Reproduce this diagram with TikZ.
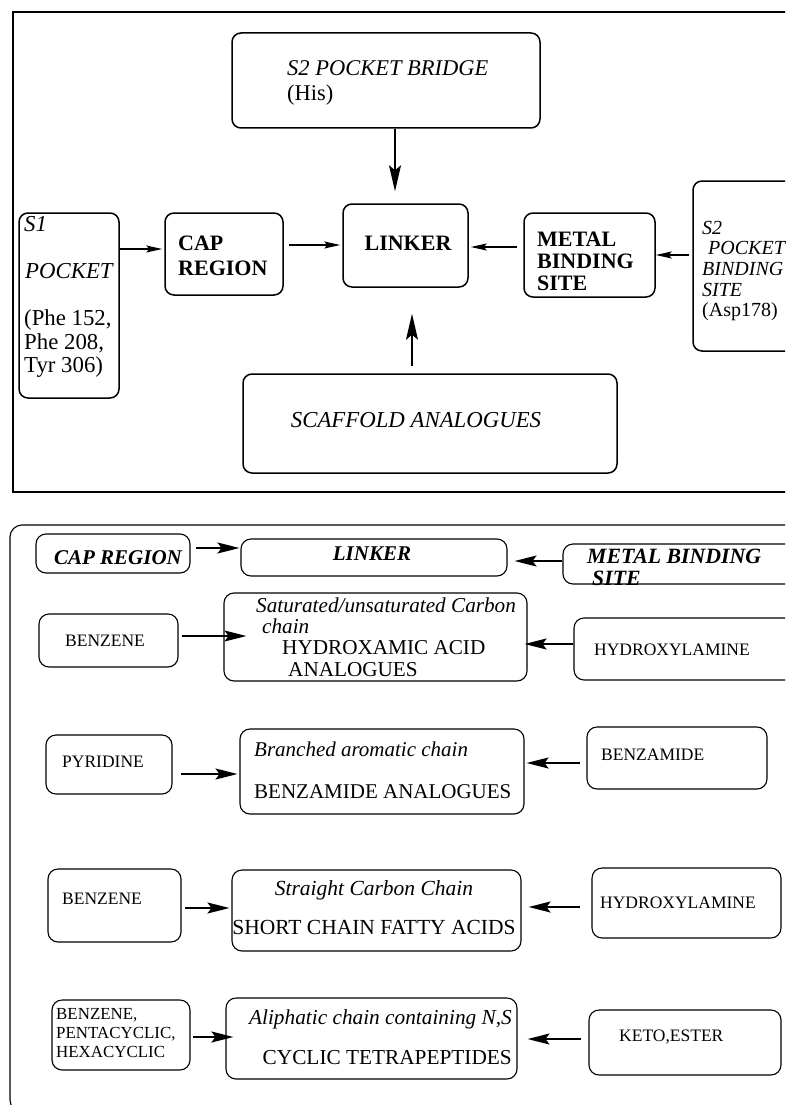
\documentclass[tikz,border=0pt]{standalone}
\usepackage{fontspec}
\setmainfont{Liberation Serif}
\usetikzlibrary{arrows.meta,fit,calc}
\newcommand{\fsz}[2]{\fontsize{#1}{#2}\selectfont}
\tikzset{
  tbox/.style={draw, line width=1.5pt, rounded corners=9pt, inner sep=0pt},
  bbox/.style={draw, line width=1.1pt, rounded corners=10pt, inner sep=0pt},
  txt/.style={inner sep=0pt, align=left, anchor=west},
  tarrh/.style={-{Stealth[length=16pt,width=7pt,inset=3pt]}, line width=1.3pt},
  tarrv/.style={-{Stealth[length=26pt,width=12pt,inset=5pt]}, line width=1.2pt},
  barr/.style={-{Stealth[length=22pt,width=11pt,inset=4pt]}, line width=1.3pt},
  barrk/.style={-{Stealth[length=22pt,width=11pt,inset=4pt]}, line width=2pt},
}
\begin{document}
\begin{tikzpicture}[x=1pt,y=-1pt]
\useasboundingbox (0,0) rectangle (785,1105);
\clip (0,0) rectangle (785,1105);
% ---------- top panel ----------
\draw[line width=1.5pt] (13,12) rectangle (800,492);
\node[tbox, fit={(232,33) (540,128)}] (bridge) {};
\node[txt, font=\fsz{22.5}{25}] (bridget) at (287,83) {\textit{S2 POCKET BRIDGE}\\(His)};
\node[tbox, fit={(343,204) (468,287)}] (link) {};
\node[inner sep=0pt, font=\fsz{22}{25}\bfseries] (linkt) at (408,243) {LINKER};
\node[tbox, fit={(165,213) (283,295)}] (cap) {};
\node[txt, font=\fsz{22}{25}\bfseries] (capt) at (178,256) {CAP\\REGION};
\node[tbox, fit={(19,213) (119,398)}] (s1) {};
\node[txt, font=\fsz{22.8}{23.6}] (s1t) at (24,297) {\textit{S1}\\\mbox{}\\\hspace{1pt}\textit{POCKET}\\\mbox{}\\(Phe 152,\\Phe 208,\\Tyr 306)};
\node[tbox, fit={(524,213) (655,297)}] (metal) {};
\node[txt, font=\fsz{22}{22}\bfseries] (metalt) at (537,261) {METAL\\BINDING\\SITE};
\node[tbox, fit={(693,181) (820,351)}] (s2b) {};
\node[txt, font=\fsz{20}{20.7}] (s2bt) at (702,271) {\textit{S2}\\\hspace{6pt}\textit{POCKET}\\\textit{BINDING}\\\textit{SITE}\\(Asp178)};
\node[tbox, fit={(243,374) (617,473)}] (scaf) {};
\node[inner sep=0pt, font=\fsz{22.8}{25}\itshape] (scaft) at (416,420) {SCAFFOLD ANALOGUES};
\coordinate (vA) at (395,0);
\coordinate (vB) at (412,0);
\coordinate (hA) at (0,249);
\coordinate (hB) at (0,245);
\coordinate (hC) at (0,247);
\coordinate (hD) at (0,255);
\draw[tarrv, shorten >=12pt] (bridge.south -| vA) -- (link.north -| vA);
\draw[tarrv, shorten <=7pt, shorten >=26pt] (scaf.north -| vB) -- (link.south -| vB);
\draw[tarrh, shorten >=2pt] (s1.east |- hA) -- (cap.west |- hA);
\draw[tarrh, shorten <=5pt, shorten >=2pt] (cap.east |- hB) -- (link.west |- hB);
\draw[tarrh, shorten <=6pt, shorten >=2pt] (metal.west |- hC) -- (link.east |- hC);
\draw[tarrh, shorten <=3pt] (s2b.west |- hD) -- (metal.east |- hD);
% ---------- bottom panel ----------
\draw[line width=1.1pt, rounded corners=12pt] (10,525) rectangle (805,1112);
% row 0
\node[bbox, fit={(36,534) (190,573)}] (capB) {};
\node[inner sep=0pt, font=\fsz{21}{22}\bfseries\itshape] (capBt) at (118,558) {CAP REGION};
\node[bbox, fit={(241,539) (507,576)}] (linkB) {};
\node[inner sep=0pt, font=\fsz{21}{22}\bfseries\itshape] (linkBt) at (372,554) {LINKER};
\node[bbox, fit={(563,544) (810,584)}] (metB) {};
\node[txt, font=\fsz{21.8}{22}\bfseries\itshape] (metBt) at (587,567) {METAL BINDING\\\hspace{5pt}SITE};
\coordinate (r0a) at (0,548);
\coordinate (r0b) at (0,561);
\draw[barrk, shorten <=5pt, shorten >=1pt] (capB.east |- r0a) -- (linkB.west |- r0a);
\draw[barrk, shorten >=7pt] (metB.west |- r0b) -- (linkB.east |- r0b);
% row 1
\node[bbox, fit={(39,614) (178,667)}] (ben1) {};
\node[inner sep=0pt, font=\fsz{17.5}{20}] (ben1t) at (105,641) {BENZENE};
\node[bbox, fit={(224,593) (527,681)}] (hya) {};
\node[txt, font=\fsz{21.2}{21.3}] (hyat) at (256,637) {\textit{Saturated/unsaturated Carbon}\\\hspace{6pt}\textit{chain}\\\hspace{26pt}HYDROXAMIC ACID\\\hspace{32pt}ANALOGUES};
\node[bbox, fit={(574,618) (810,680)}] (hyl1) {};
\node[txt, font=\fsz{17.5}{20}] (hyl1t) at (594,650) {HYDROXYLAMINE};
\coordinate (r1a) at (0,636);
\coordinate (r1b) at (0,644);
\draw[barr, shorten <=3pt, shorten >=-23pt] (ben1.east |- r1a) -- (hya.west |- r1a);
\draw[barrk, shorten >=-3pt] (hyl1.west |- r1b) -- (hya.east |- r1b);
% row 2
\node[bbox, fit={(46,735) (172,794)}] (pyr) {};
\node[txt, font=\fsz{17.5}{20}] (pyrt) at (62,762) {PYRIDINE};
\node[bbox, fit={(240,729) (524,814)}] (bza) {};
\node[txt, font=\fsz{21}{21}] (bzat) at (254,770) {\textit{Branched aromatic chain}\\[21pt]BENZAMIDE ANALOGUES};
\node[bbox, fit={(587,727) (767,789)}] (bzm) {};
\node[txt, font=\fsz{17.5}{20}] (bzmt) at (601,755) {BENZAMIDE};
\coordinate (r2a) at (0,774);
\coordinate (r2b) at (0,763);
\draw[barr, shorten <=8pt, shorten >=2pt] (pyr.east |- r2a) -- (bza.west |- r2a);
\draw[barrk, shorten <=6pt, shorten >=2pt] (bzm.west |- r2b) -- (bza.east |- r2b);
% row 3
\node[bbox, fit={(48,869) (181,942)}] (ben3) {};
\node[txt, font=\fsz{17.5}{20}] (ben3t) at (62,899) {BENZENE};
\node[bbox, fit={(232,870) (521,951)}] (sca) {};
\node[inner sep=0pt, align=center, font=\fsz{21.5}{21}] (scat) at (374,907.5) {\textit{Straight Carbon Chain}\\[18pt]SHORT CHAIN FATTY ACIDS};
\node[bbox, fit={(592,868) (781,938)}] (hyl3) {};
\node[txt, font=\fsz{17.5}{20}] (hyl3t) at (600,903) {HYDROXYLAMINE};
\coordinate (r3a) at (0,908);
\coordinate (r3b) at (0,907);
\draw[barrk, shorten <=3pt, shorten >=2pt] (ben3.east |- r3a) -- (sca.west |- r3a);
\draw[barrk, shorten <=11pt, shorten >=7pt] (hyl3.west |- r3b) -- (sca.east |- r3b);
% row 4
\node[bbox, fit={(52,1000) (190,1070)}] (ben4) {};
\node[txt, font=\fsz{16.9}{19}] (ben4t) at (56,1033) {BENZENE,\\PENTACYCLIC,\\HEXACYCLIC};
\node[bbox, fit={(226,998) (517,1079)}] (cyc) {};
\node[inner sep=0pt, align=right, anchor=east, font=\fsz{21.3}{21}] (cyct) at (512,1037) {\textit{Aliphatic chain containing N,S}\\[19pt]CYCLIC TETRAPEPTIDES};
\node[bbox, fit={(589,1010) (781,1075)}] (keto) {};
\node[txt, font=\fsz{17.5}{20}] (ketot) at (619,1037) {KETO,ESTER};
\coordinate (r4a) at (0,1037);
\coordinate (r4b) at (0,1039);
\draw[barrk, shorten <=2pt, shorten >=-8pt] (ben4.east |- r4a) -- (cyc.west |- r4a);
\draw[barr, shorten <=7pt, shorten >=10pt] (keto.west |- r4b) -- (cyc.east |- r4b);
\end{tikzpicture}
\end{document}
